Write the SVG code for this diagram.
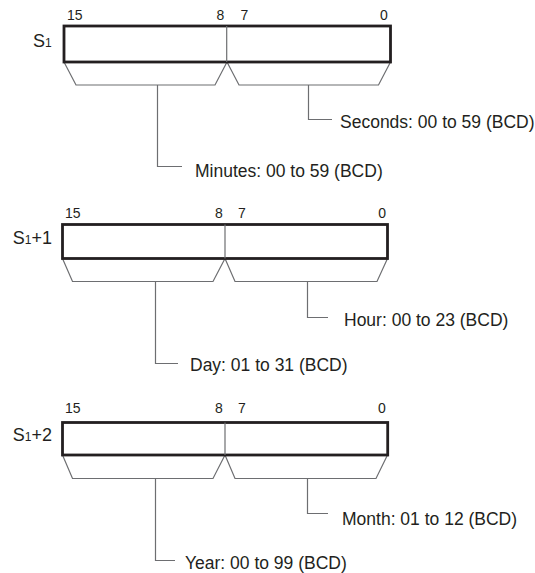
<svg xmlns="http://www.w3.org/2000/svg" width="535" height="573" viewBox="0 0 535 573">
<style>
  text { font-family: "Liberation Sans", Arial, sans-serif; fill: #231f20; }
  .bit { font-size: 14px; }
  .lbl { font-size: 17.5px; }
  .reg { font-size: 18px; }
  .sub { font-size: 12px; }
  .box { fill: #ffffff; stroke: #231f20; stroke-width: 2.8; }
  .div { stroke: #6d6e71; stroke-width: 1.2; fill: none; }
  .thin { stroke: #6d6e71; stroke-width: 1.2; fill: none; }
</style>
<rect width="535" height="573" fill="#ffffff"/>

<g id="connectors">
  <path class="thin" d="M64,62 L76,85 H215 L227,62"/>
  <path class="thin" d="M227,62 L239,85 H378.5 L390.5,62"/>
  <path class="thin" d="M157.5,85 V166.5 H182"/>
  <path class="thin" d="M308.5,85 V119.5 H332"/>

  <path class="thin" d="M62.5,258.5 L72.5,281.5 H213 L225,258.5"/>
  <path class="thin" d="M225,258.5 L235,281.5 H377 L387.5,258.5"/>
  <path class="thin" d="M155.5,281.5 V363.5 H178"/>
  <path class="thin" d="M307.5,281.5 V317.5 H328"/>

  <path class="thin" d="M62.5,455 L72.5,478.5 H213 L225,455"/>
  <path class="thin" d="M225,455 L235,478.5 H376 L387.5,455"/>
  <path class="thin" d="M155.5,478.5 V560.5 H175"/>
  <path class="thin" d="M307.5,478.5 V513.5 H328"/>
</g>

<g id="reg-s1">
  <rect class="box" x="64" y="26" width="326.5" height="36"/>
  <line class="div" x1="226.7" y1="26" x2="226.7" y2="62"/>
  <text class="bit" x="67" y="20">15</text>
  <text class="bit" x="216.5" y="20">8</text>
  <text class="bit" x="240.5" y="20">7</text>
  <text class="bit" x="380" y="20">0</text>
  <text class="reg" x="33" y="46.7">S<tspan class="sub">1</tspan></text>
</g>

<g id="reg-s1p1">
  <rect class="box" x="62.5" y="224.5" width="325" height="34"/>
  <line class="div" x1="225" y1="224.5" x2="225" y2="258.5"/>
  <text class="bit" x="65" y="217.5">15</text>
  <text class="bit" x="215" y="217.5">8</text>
  <text class="bit" x="238" y="217.5">7</text>
  <text class="bit" x="378.3" y="217.5">0</text>
  <text class="reg" x="12.7" y="244">S<tspan class="sub">1</tspan>+1</text>
</g>

<g id="reg-s1p2">
  <rect class="box" x="62.5" y="422.5" width="325.2" height="32.5"/>
  <line class="div" x1="225" y1="422.5" x2="225" y2="455"/>
  <text class="bit" x="65" y="412.7">15</text>
  <text class="bit" x="215" y="412.7">8</text>
  <text class="bit" x="238" y="412.7">7</text>
  <text class="bit" x="378" y="412.7">0</text>
  <text class="reg" x="12.7" y="440.7">S<tspan class="sub">1</tspan>+2</text>
</g>

<g id="label-seconds"><text class="lbl" x="340" y="128">Seconds: 00 to 59 (BCD)</text></g>
<g id="label-minutes"><text class="lbl" x="195" y="176.7">Minutes: 00 to 59 (BCD)</text></g>
<g id="label-hour"><text class="lbl" x="344" y="326">Hour: 00 to 23 (BCD)</text></g>
<g id="label-day"><text class="lbl" x="190" y="371">Day: 01 to 31 (BCD)</text></g>
<g id="label-month"><text class="lbl" x="342" y="525">Month: 01 to 12 (BCD)</text></g>
<g id="label-year"><text class="lbl" x="185" y="569">Year: 00 to 99 (BCD)</text></g>
</svg>
